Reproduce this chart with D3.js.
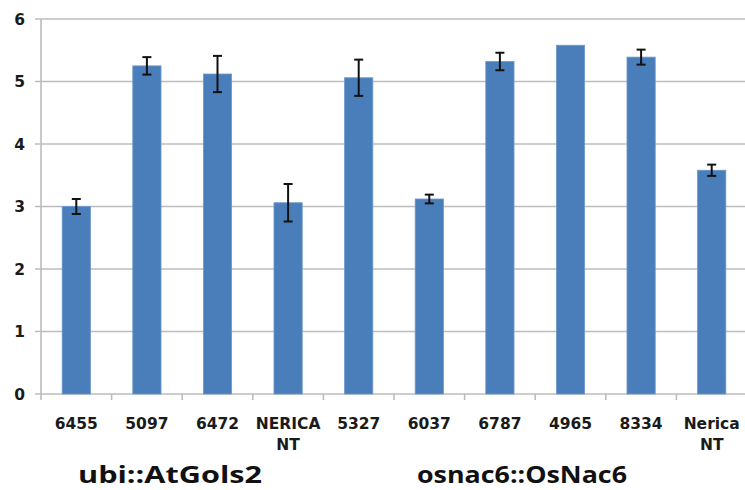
<!DOCTYPE html>
<html>
<head>
<meta charset="utf-8">
<script src="https://cdn.jsdelivr.net/npm/d3@7"></script>
<style>
  html, body { margin: 0; padding: 0; background: #ffffff; }
  svg { display: block; }
</style>
</head>
<body>
<div id="chart"></div>
<script>
// Lines (x categories), each possibly split over two text lines
const categories = ["6455", "5097", "6472", "NERICA NT", "5327", "6037", "6787", "4965", "8334", "Nerica NT"];
const categoryLines = [["6455"], ["5097"], ["6472"], ["NERICA", "NT"], ["5327"], ["6037"], ["6787"], ["4965"], ["8334"], ["Nerica", "NT"]];
// Mean values and standard errors
const values = [3.00, 5.25, 5.12, 3.06, 5.06, 3.12, 5.32, 5.58, 5.39, 3.58];
const errors = [0.12, 0.14, 0.29, 0.30, 0.29, 0.07, 0.14, 0, 0.12, 0.09];
const yTicks = [0, 1, 2, 3, 4, 5, 6];
// Construct group labels under the axis
const groupLabels = ["ubi::AtGols2", "osnac6::OsNac6"];

const W = 745, H = 490;
const margin = { left: 41, top: 19, bottom: 96 };
const plotRight = 747;

const svg = d3.select("#chart").append("svg")
  .attr("width", W).attr("height", H);

const x = d3.scaleBand()
  .domain(categories)
  .range([margin.left, plotRight])
  .paddingInner(0.6)
  .paddingOuter(0.3);

const y = d3.scaleLinear()
  .domain([0, 6])
  .range([H - margin.bottom, margin.top]);

const gridColor = "#bcbcbc";

// Horizontal gridlines with short outward ticks
svg.append("g")
  .selectAll("line")
  .data(yTicks)
  .join("line")
  .attr("x1", margin.left - 6)
  .attr("x2", plotRight)
  .attr("y1", d => y(d))
  .attr("y2", d => y(d))
  .attr("stroke", gridColor)
  .attr("stroke-width", 1.6);

// Y axis line
svg.append("line")
  .attr("x1", margin.left).attr("x2", margin.left)
  .attr("y1", y(6)).attr("y2", y(0))
  .attr("stroke", gridColor).attr("stroke-width", 1.6);

// Y tick labels
svg.append("g")
  .selectAll("text")
  .data(yTicks)
  .join("text")
  .attr("x", 25)
  .attr("y", d => y(d))
  .attr("dy", "0.36em")
  .attr("text-anchor", "end")
  .attr("font-family", "DejaVu Sans, Verdana, sans-serif")
  .attr("font-weight", "bold")
  .attr("font-size", 15.5)
  .attr("fill", "#1a1a1a")
  .text(d => d);

// Category boundary tick marks below the axis
const boundaries = d3.range(categories.length + 1).map(i => margin.left + i * x.step());
svg.append("g")
  .selectAll("line")
  .data(boundaries)
  .join("line")
  .attr("x1", d => d).attr("x2", d => d)
  .attr("y1", y(0)).attr("y2", y(0) + 6)
  .attr("stroke", gridColor).attr("stroke-width", 1.6);

// Bars
svg.append("g")
  .selectAll("rect")
  .data(categories)
  .join("rect")
  .attr("x", d => x(d))
  .attr("width", x.bandwidth())
  .attr("y", (d, i) => y(values[i]))
  .attr("height", (d, i) => y(0) - y(values[i]))
  .attr("fill", "#4a7ebb")
  .attr("stroke", "#6d98cc")
  .attr("stroke-width", 0.8);

// Error bars
const errG = svg.append("g")
  .attr("stroke", "#111")
  .attr("stroke-width", 2)
  .attr("fill", "none");
categories.forEach((c, i) => {
  if (!errors[i]) return;
  const cx = x(c) + x.bandwidth() / 2;
  const top = y(values[i] + errors[i]);
  const bot = y(values[i] - errors[i]);
  errG.append("line").attr("x1", cx).attr("x2", cx).attr("y1", top).attr("y2", bot);
  errG.append("line").attr("x1", cx - 4.5).attr("x2", cx + 4.5).attr("y1", top).attr("y2", top);
  errG.append("line").attr("x1", cx - 4.5).attr("x2", cx + 4.5).attr("y1", bot).attr("y2", bot);
});

// X category labels
const xl = svg.append("g")
  .selectAll("text")
  .data(categories)
  .join("text")
  .attr("x", d => x(d) + x.bandwidth() / 2)
  .attr("y", 429)
  .attr("text-anchor", "middle")
  .attr("font-family", "DejaVu Sans, Verdana, sans-serif")
  .attr("font-weight", "bold")
  .attr("font-size", 15.5)
  .attr("fill", "#1a1a1a");
xl.each(function (d, i) {
  const t = d3.select(this);
  categoryLines[i].forEach((ln, k) => {
    t.append("tspan")
      .attr("x", x(d) + x.bandwidth() / 2)
      .attr("dy", k === 0 ? 0 : 21)
      .text(ln);
  });
});

// Construct group labels
const groupPos = [{ cx: 170, w: 184 }, { cx: 522, w: 210 }];
svg.append("g")
  .selectAll("text")
  .data(groupLabels)
  .join("text")
  .attr("x", (d, i) => groupPos[i].cx - groupPos[i].w / 2)
  .attr("y", 483)
  .attr("textLength", (d, i) => groupPos[i].w)
  .attr("lengthAdjust", "spacingAndGlyphs")
  .attr("font-family", "Open Sans, sans-serif")
  .attr("font-weight", "bold")
  .attr("font-size", 24)
  .attr("fill", "#111")
  .text(d => d);
</script>
</body>
</html>
